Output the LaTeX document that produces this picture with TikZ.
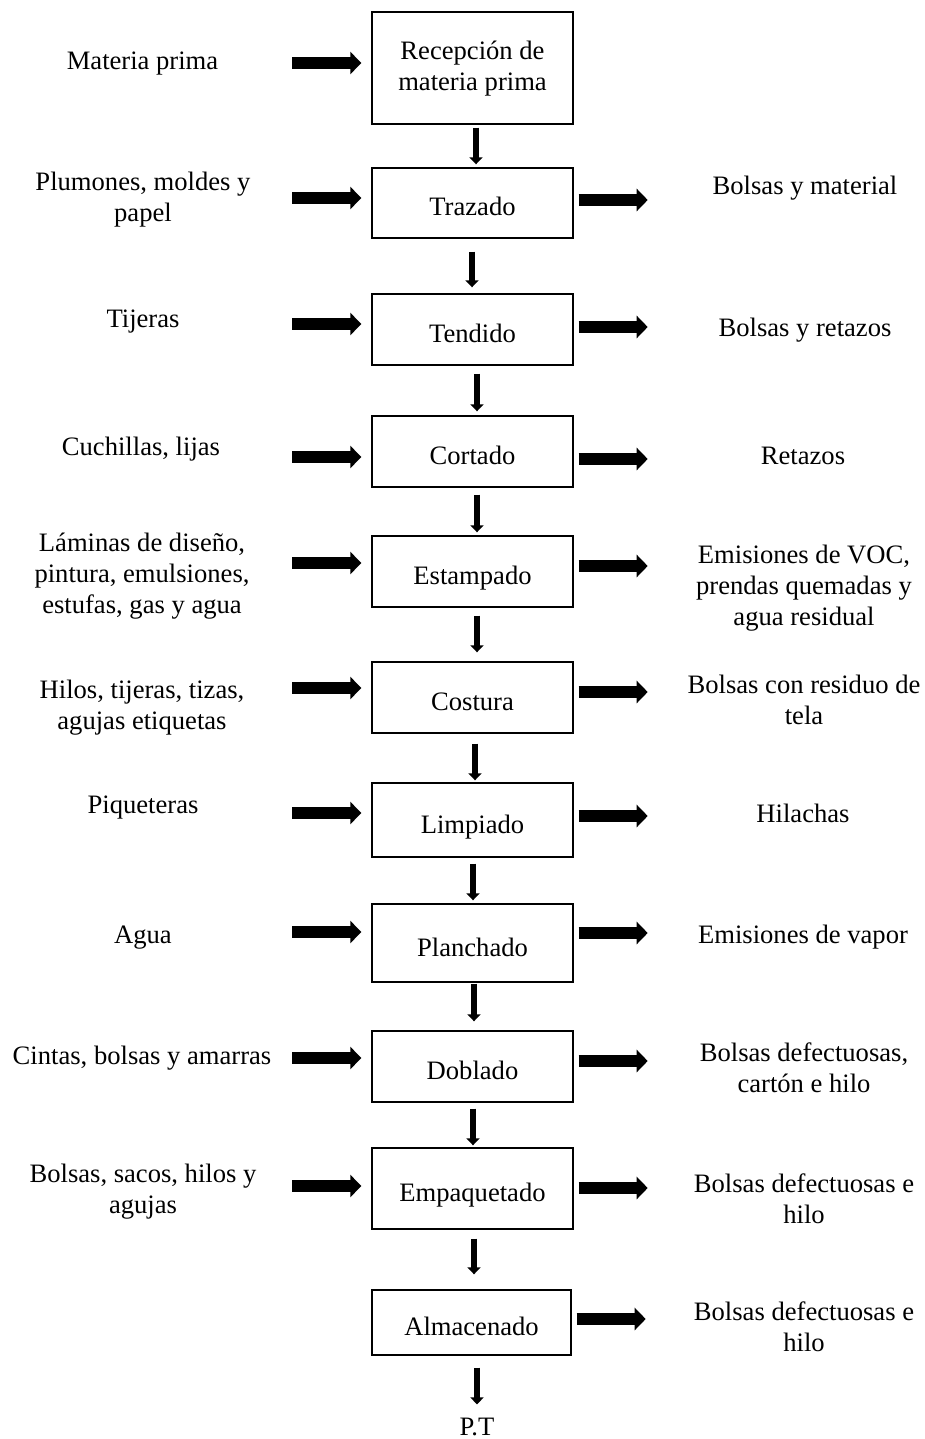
\documentclass[tikz,border=0pt]{standalone}
\usepackage{fontspec}
\setmainfont{Liberation Serif}
\usetikzlibrary{arrows.meta,calc}
\begin{document}
\begin{tikzpicture}[x=1pt,y=-1pt,
  txt/.style={font=\fontsize{26.6}{31}\selectfont, align=center, inner sep=0pt},
  boxbase/.style={txt, draw, line width=1.4pt, minimum width=201pt},
  stepbox/.style={boxbase, text height=26pt, text depth=0pt},
  feed/.style={line width=11.7pt, -{Triangle[width=22pt,length=11pt]}},
  flow/.style={line width=6.7pt, -{Triangle[width=13pt,length=7pt]}},
]
\useasboundingbox[fill=white] (0,0) rectangle (925,1439);

% process column
\node[boxbase, minimum height=112pt, text height=52pt, text depth=6pt] (b1) at (472.5,68) {Recepción de\\materia prima};
\node[stepbox, minimum height=70pt] (b2) at (472.5,203) {Trazado};
\node[stepbox, minimum height=71pt] (b3) at (472.5,329.5) {Tendido};
\node[stepbox, minimum height=71pt] (b4) at (472.5,451.5) {Cortado};
\node[stepbox, minimum height=71pt] (b5) at (472.5,571.5) {Estampado};
\node[stepbox, minimum height=71pt] (b6) at (472.5,697.5) {Costura};
\node[stepbox, minimum height=74pt] (b7) at (472.5,820) {Limpiado};
\node[stepbox, minimum height=78pt] (b8) at (472.5,943) {Planchado};
\node[stepbox, minimum height=71pt] (b9) at (472.5,1066.5) {Doblado};
\node[stepbox, minimum height=81pt] (b10) at (472.5,1188.5) {Empaquetado};
\node[stepbox, minimum height=65pt, minimum width=199pt] (b11) at (471.5,1322.5) {Almacenado};
\node[txt] (pt) at (477,1427) {P.T};

% inputs
\node[txt] (i1) at (142.5,64) {Materia prima};
\node[txt] (i2) at (143,200) {Plumones, moldes y\\papel};
\node[txt] (i3) at (143,322) {Tijeras};
\node[txt] (i4) at (141,449) {Cuchillas, lijas};
\node[txt] (i5) at (142,576) {Láminas de diseño,\\pintura, emulsiones,\\estufas, gas y agua};
\node[txt] (i6) at (142,708) {Hilos, tijeras, tizas,\\agujas etiquetas};
\node[txt] (i7) at (143,808) {Piqueteras};
\node[txt] (i8) at (143,938) {Agua};
\node[txt] (i9) at (142,1058) {Cintas, bolsas y amarras};
\node[txt] (i10) at (143,1192) {Bolsas, sacos, hilos y\\agujas};

% outputs
\node[txt] (o2) at (805,188) {Bolsas y material};
\node[txt] (o3) at (805,330) {Bolsas y retazos};
\node[txt] (o4) at (803,456) {Retazos};
\node[txt] (o5) at (804,588) {Emisiones de VOC,\\prendas quemadas y\\agua residual};
\node[txt] (o6) at (804,700) {Bolsas con residuo de\\tela};
\node[txt] (o7) at (803,813) {Hilachas};
\node[txt] (o8) at (803,937) {Emisiones de vapor};
\node[txt] (o9) at (804,1068) {Bolsas defectuosas,\\cartón e hilo};
\node[txt] (o10) at (804,1199) {Bolsas defectuosas e\\hilo};
\node[txt] (o11) at (804,1327) {Bolsas defectuosas e\\hilo};

% incoming arrows
\foreach \b/\d in {b1/-5, b2/-5, b3/-5.5, b4/5.5, b5/-8.5, b6/-9.5, b7/-7, b8/-11, b9/-8.5, b10/-2.5}
  \draw[feed] ($(\b.west)+(-79,\d)$) -- ($(\b.west)+(-10,\d)$);

% outgoing arrows
\foreach \b/\d in {b2/-3, b3/-2.5, b4/7.5, b5/-5.5, b6/-5.5, b7/-4, b8/-10, b9/-5.5, b10/-0.5, b11/-3.5}
  \draw[feed] ($(\b.east)+(5,\d)$) -- ($(\b.east)+(74,\d)$);

% flow between steps
\draw[flow] ([shift={(3.5,3)}]b1.south) -- ([shift={(3.5,-3)}]b2.north);
\draw[flow] ([shift={(-0.5,13)}]b2.south) -- ([shift={(-0.5,-6)}]b3.north);
\draw[flow] ([shift={(4.5,8)}]b3.south) -- ([shift={(4.5,-4)}]b4.north);
\draw[flow] ([shift={(4.5,7)}]b4.south) -- ([shift={(4.5,-3)}]b5.north);
\draw[flow] ([shift={(4.5,8)}]b5.south) -- ([shift={(4.5,-9)}]b6.north);
\draw[flow] ([shift={(2.5,10)}]b6.south) -- ([shift={(2.5,-2)}]b7.north);
\draw[flow] ([shift={(0.5,6)}]b7.south) -- ([shift={(0.5,-3)}]b8.north);
\draw[flow] ([shift={(1.5,1)}]b8.south) -- ([shift={(1.5,-9)}]b9.north);
\draw[flow] ([shift={(0.5,6)}]b9.south) -- ([shift={(0.5,-2)}]b10.north);
\draw[flow] ([shift={(1.5,9)}]b10.south) -- ([shift={(2.5,-15)}]b11.north);
\draw[flow] ([shift={(5.5,12)}]b11.south) -- ([shift={(0,-13.5)}]pt.north);
\end{tikzpicture}
\end{document}
